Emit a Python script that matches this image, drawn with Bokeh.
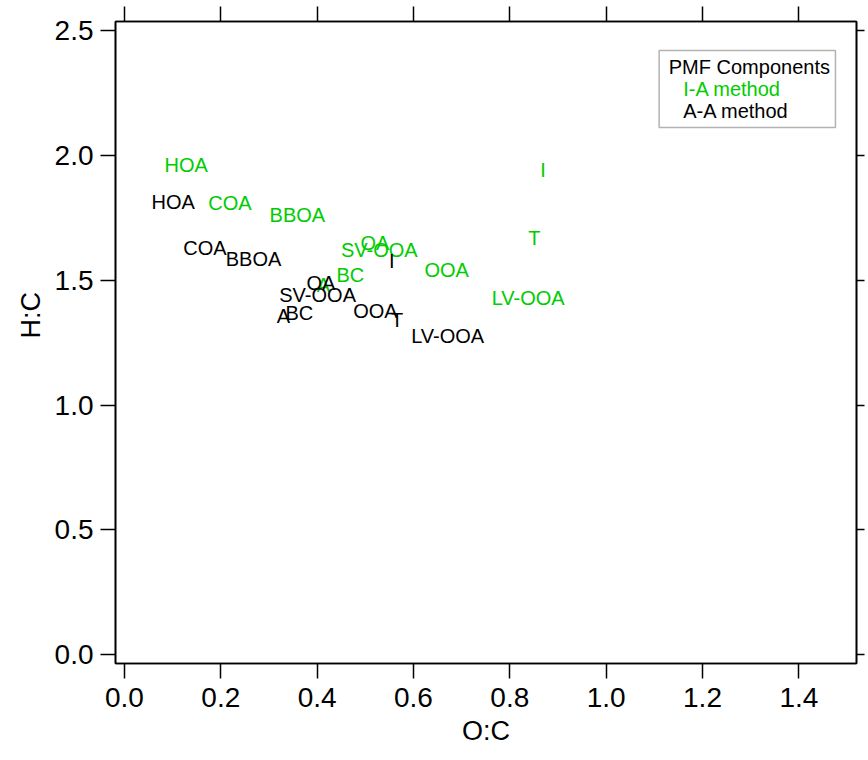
from bokeh.plotting import figure, ColumnDataSource
from bokeh.models import (Range1d, FixedTicker, NumeralTickFormatter, LinearAxis,
                          Label, BoxAnnotation, CustomLabelingPolicy)
from bokeh.core.properties import value
from bokeh.embed import file_html
from bokeh.resources import INLINE

# ---- data ----
labels = ["HOA", "COA", "BBOA", "OA", "SV-OOA", "BC", "A", "OOA", "I", "T", "LV-OOA"]
ia_oc = [0.128, 0.219, 0.359, 0.520, 0.529, 0.469, 0.413, 0.669, 0.869, 0.851, 0.838]
ia_hc = [1.961, 1.809, 1.762, 1.649, 1.621, 1.520, 1.481, 1.540, 1.941, 1.668, 1.428]
aa_oc = [0.101, 0.167, 0.268, 0.408, 0.401, 0.363, 0.330, 0.521, 0.555, 0.566, 0.671]
aa_hc = [1.813, 1.628, 1.585, 1.489, 1.441, 1.368, 1.356, 1.376, 1.577, 1.340, 1.276]
x_ticks = [0.0, 0.2, 0.4, 0.6, 0.8, 1.0, 1.2, 1.4]
y_ticks = [0.0, 0.5, 1.0, 1.5, 2.0, 2.5]
x_title = "O:C"
y_title = "H:C"
legend_title = "PMF Components"
legend_items = ["I-A method", "A-A method"]

GREEN = "#00CC00"
FONT = "Liberation Sans"

p = figure(width=868, height=758, output_backend="svg", toolbar_location=None,
           x_range=Range1d(-0.0186, 1.5197), y_range=Range1d(-0.036, 2.538),
           min_border_left=115, min_border_right=8, min_border_top=21, min_border_bottom=95,
           x_axis_location=None, y_axis_location=None)
p.grid.visible = False
p.outline_line_color = "black"
p.outline_line_width = 1.6
p.background_fill_color = "white"
p.border_fill_color = "white"

hide_all = CustomLabelingPolicy(
    code="for (let i = 0; i < indices.size; i++) { indices.unset(i) } return indices")


def style_axis(ax, ticks, show_labels, tick_out, standoff=7):
    ax.ticker = FixedTicker(ticks=ticks)
    ax.formatter = NumeralTickFormatter(format="0.0")
    ax.major_tick_out = tick_out
    ax.major_tick_in = 0
    ax.minor_tick_line_color = None
    ax.major_tick_line_width = 1.5
    ax.major_tick_line_color = "black"
    ax.axis_line_color = "black"
    ax.axis_line_width = 1.6
    ax.major_label_text_font = FONT
    if show_labels:
        ax.major_label_text_font_size = "28px"
        ax.major_label_text_color = "black"
        ax.major_label_standoff = standoff
    else:
        ax.major_label_text_font_size = "1px"
        ax.major_label_standoff = 0
        ax.major_label_policy = hide_all


bottom = LinearAxis(axis_label=x_title, axis_label_text_font=FONT,
                    axis_label_text_font_size="27px", axis_label_text_font_style="normal",
                    axis_label_text_color="black", axis_label_standoff=6)
style_axis(bottom, x_ticks, True, 15, standoff=9)
p.add_layout(bottom, "below")
left = LinearAxis()
style_axis(left, y_ticks, True, 15, standoff=7)
p.add_layout(left, "left")
top = LinearAxis()
style_axis(top, x_ticks, False, 15)
p.add_layout(top, "above")
right = LinearAxis()
style_axis(right, y_ticks, False, 8)
p.add_layout(right, "right")

ia_src = ColumnDataSource(dict(x=ia_oc, y=ia_hc, t=labels))
aa_src = ColumnDataSource(dict(x=aa_oc, y=aa_hc, t=labels))
for src, col in ((ia_src, GREEN), (aa_src, "black")):
    p.text(x="x", y="y", text="t", source=src, text_color=col,
           text_font=value(FONT), text_font_size="20px",
           text_align="center", text_baseline="middle")

# y axis title (placed off-centre as in the reference)
p.text(x=[-0.194], y=[1.36], text=[y_title], angle=1.5708, text_color="black",
       text_font=value(FONT), text_font_size="27px",
       text_align="center", text_baseline="middle", level="overlay")

# legend box
p.add_layout(BoxAnnotation(left=1.110, right=1.476, top=2.422, bottom=2.113,
                           fill_color=None, line_color="black", line_width=1.5))
p.add_layout(Label(x=1.130, y=2.354, text=legend_title, text_font=FONT,
                   text_font_size="20px", text_baseline="middle", text_color="black"))
p.add_layout(Label(x=1.160, y=2.268, text=legend_items[0], text_font=FONT,
                   text_font_size="20px", text_baseline="middle", text_color=GREEN))
p.add_layout(Label(x=1.160, y=2.180, text=legend_items[1], text_font=FONT,
                   text_font_size="20px", text_baseline="middle", text_color="black"))

open("out.html", "w").write(file_html(p, INLINE))
